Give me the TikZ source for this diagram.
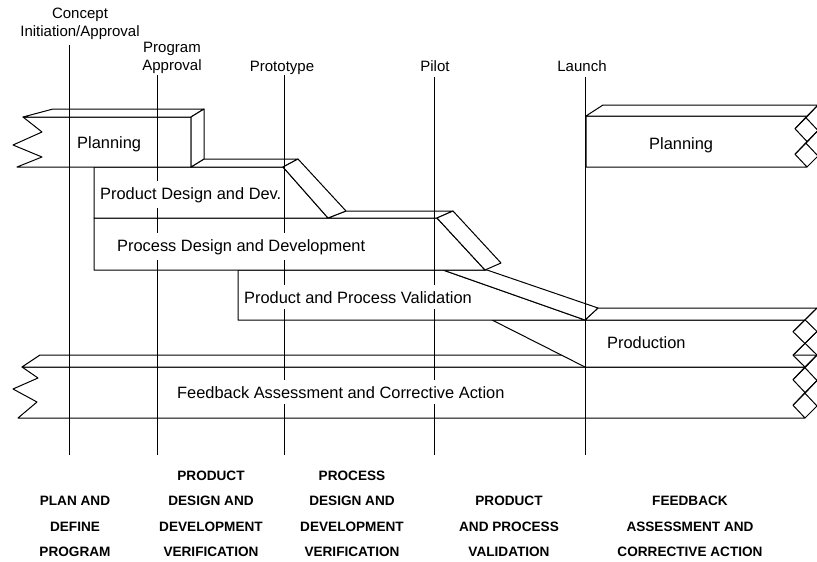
\documentclass[tikz,border=0pt]{standalone}
\usepackage{fontspec}
\setmainfont{Liberation Sans}
\begin{document}
\begin{tikzpicture}[x=1pt,y=-1pt,
  bar/.style={draw=black, fill=white, line width=1pt, line join=round},
  edge/.style={draw=black, line width=1pt, line join=round},
  mile/.style={draw=black, line width=1pt},
  barlbl/.style={font=\fontsize{16.4}{19}\selectfont, fill=white, inner xsep=3pt, inner ysep=6pt, anchor=base west},
  toplbl/.style={font=\fontsize{15}{18}\selectfont, align=center, inner sep=0pt},
  botlbl/.style={font=\bfseries\fontsize{13.6}{25.5}\selectfont, align=center, inner sep=0pt, anchor=south}]
\useasboundingbox (0,0) rectangle (817,562);

% ---------- Feedback bar ----------
\draw[bar] (22,367) -- (38,378) -- (13,389) -- (37,402) -- (18,418) -- (805,418)
  -- (793,405.25) -- (805,392.5) -- (793,379.75) -- (805,367) -- cycle;
\draw[bar] (22,367) -- (40,355) -- (817,355) -- (805,367) -- cycle;
\draw[edge] (817,355) -- (805,367.75) -- (817,380.5) -- (805,393.25) -- (817,406);
\draw[edge] (793,379.75) -- (805,367.75) (805,392.5) -- (817,380.5)
  (793,405.25) -- (805,393.25) (805,418) -- (817,406);

% ---------- Production bar ----------
\draw[bar] (492,320) -- (805,320) -- (793,331.75) -- (805,343.5) -- (793,355.25)
  -- (805,367) -- (585,367) -- cycle;
\draw[bar] (585,320) -- (598,308) -- (817,308) -- (805,320) -- cycle;
\draw[edge] (817,308) -- (805,319.75) -- (817,331.5) -- (805,343.25) -- (817,355);
\draw[edge] (793,331.75) -- (805,319.75) (805,343.5) -- (817,331.5)
  (793,355.25) -- (805,343.25) (805,367) -- (817,355);

% ---------- Product and Process Validation ----------
\draw[bar] (238,270) -- (443,270) -- (585,320) -- (238,320) -- cycle;
\draw[bar] (443,270) -- (487,270) -- (598,308) -- (585,320) -- cycle;

% ---------- Process Design and Development ----------
\draw[bar] (94,218) -- (437,218) -- (485,270) -- (94,270) -- cycle;
\draw[bar] (328,218) -- (346,211) -- (453,211) -- (437,218) -- cycle;
\draw[bar] (437,218) -- (453,211) -- (501,263) -- (485,270) -- cycle;

% ---------- Product Design and Dev. ----------
\draw[bar] (94,167) -- (283,167) -- (328,218) -- (94,218) -- cycle;
\draw[bar] (191,167) -- (204,159) -- (298,159) -- (283,167) -- cycle;
\draw[bar] (283,167) -- (298,159) -- (346,211) -- (328,218) -- cycle;

% ---------- Planning (left) ----------
\draw[bar] (23,117) -- (191,117) -- (191,167) -- (17,167) -- (42,157) -- (13,145) -- (42,132) -- cycle;
\draw[bar] (23,117) -- (53,109) -- (204,109) -- (191,117) -- cycle;
\draw[bar] (191,117) -- (204,109) -- (204,159) -- (191,167) -- cycle;

% ---------- Planning (right) ----------
\draw[bar] (586,116) -- (807,116) -- (795,128.75) -- (807,141.5) -- (795,154.25)
  -- (807,167) -- (586,167) -- cycle;
\draw[bar] (586,116) -- (603,105) -- (818,105) -- (807,116) -- cycle;
\draw[edge] (818,105) -- (806,117.75) -- (818,130.5) -- (806,143.25) -- (818,156);
\draw[edge] (795,128.75) -- (806,117.75) (807,141.5) -- (818,130.5)
  (795,154.25) -- (806,143.25) (807,167) -- (818,156);

% ---------- Milestone labels ----------
\node[toplbl, anchor=south] (mConcept) at (80,40) {Concept\\Initiation/Approval};
\node[toplbl, anchor=south] (mProgram) at (172,74) {Program\\Approval};
\node[toplbl, anchor=base] (mProto) at (282,71) {Prototype};
\node[toplbl, anchor=base] (mPilot) at (435,71) {Pilot};
\node[toplbl, anchor=base] (mLaunch) at (582,71) {Launch};

% ---------- Milestone lines ----------
\coordinate (l1t) at (69,45);  \coordinate (l1b) at (69,455);
\coordinate (l2t) at (157,75); \coordinate (l2b) at (157,455);
\coordinate (l3t) at (284,75); \coordinate (l3b) at (284,455);
\coordinate (l4t) at (434,77); \coordinate (l4b) at (434,455);
\coordinate (l5t) at (585,77); \coordinate (l5b) at (585,455);
\draw[mile] (l1t) -- (l1b);
\draw[mile] (l2t) -- (l2b);
\draw[mile] (l3t) -- (l3b);
\draw[mile] (l4t) -- (l4b);
\draw[mile] (l5t) -- (l5b);

% ---------- Bar labels ----------
\node[barlbl] (tPlanL) at (74,148) {Planning};
\node[barlbl] (tPDD) at (97,199) {Product Design and Dev.};
\node[barlbl] (tPrDD) at (114,251) {Process Design and Development};
\node[barlbl] (tVal) at (241,303) {Product and Process Validation};
\node[barlbl] (tProd) at (604,348) {Production};
\node[barlbl] (tFB) at (174,398) {Feedback Assessment and Corrective Action};
\node[barlbl] (tPlanR) at (646,149) {Planning};

% ---------- Phase labels ----------
\node[botlbl] (p1) at (75,557) {PLAN AND\\DEFINE\\PROGRAM};
\node[botlbl] (p2) at (211,557) {PRODUCT\\DESIGN AND\\DEVELOPMENT\\VERIFICATION};
\node[botlbl] (p3) at (352,557) {PROCESS\\DESIGN AND\\DEVELOPMENT\\VERIFICATION};
\node[botlbl] (p4) at (509,557) {PRODUCT\\AND PROCESS\\VALIDATION};
\node[botlbl] (p5) at (690,557) {FEEDBACK\\ASSESSMENT AND\\CORRECTIVE ACTION};
\end{tikzpicture}
\end{document}
